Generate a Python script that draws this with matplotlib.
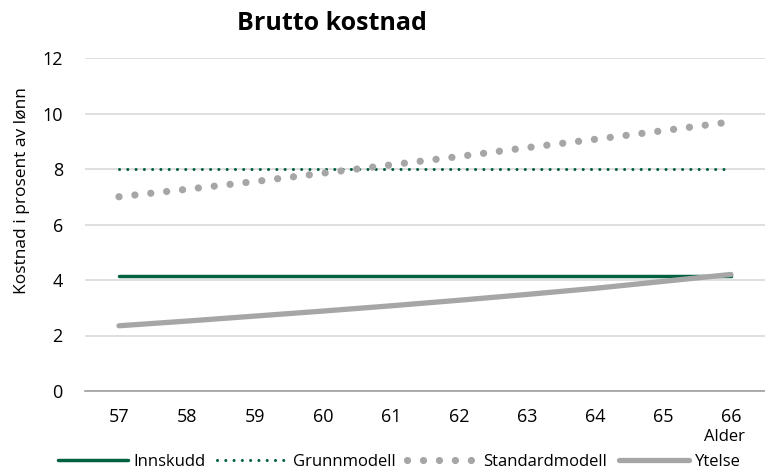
import numpy as np
import matplotlib.pyplot as plt

plt.rcParams['font.family'] = ['Open Sans', 'DejaVu Sans']

alder = [57, 58, 59, 60, 61, 62, 63, 64, 65, 66]
innskudd = [4.15] * 10
grunnmodell = [8.0] * 10
standardmodell = [7.0, 7.27, 7.55, 7.85, 8.15, 8.45, 8.77, 9.07, 9.38, 9.7]
ytelse = [2.35, 2.52, 2.7, 2.88, 3.07, 3.27, 3.48, 3.7, 3.95, 4.2]

green = '#00613E'
grey = '#A6A6A6'

fig = plt.figure(figsize=(7.65, 4.70), dpi=100)
ax = fig.add_axes([85 / 765, 1 - 391 / 470, 680 / 765, (391 - 58) / 470])

x = np.arange(len(alder))
ax.plot(x, innskudd, color=green, lw=2.5, solid_capstyle='round', label='Innskudd')
ax.plot(x, grunnmodell, color=green, lw=2.2, linestyle=(0, (0.01, 2.7)),
        dash_capstyle='round', label='Grunnmodell')
ax.plot(x, standardmodell, color=grey, lw=5.2, linestyle=(0, (0.01, 2.2)),
        dash_capstyle='round', label='Standardmodell')
ax.plot(x, ytelse, color=grey, lw=3.8, solid_capstyle='round', label='Ytelse')

ax.set_xlim(-0.5, len(alder) - 0.5)
ax.set_ylim(0, 12)
ax.set_yticks(range(0, 13, 2))
ax.set_xticks(x)
ax.set_xticklabels([str(a) for a in alder])
ax.tick_params(length=0, labelsize=13, colors='black')
ax.tick_params(axis='x', pad=12)
ax.tick_params(axis='y', pad=16)
ax.grid(axis='y', color='#D9D9D9', lw=1.2)
ax.set_axisbelow(True)
for s in ['top', 'right', 'left']:
    ax.spines[s].set_visible(False)
ax.spines['bottom'].set_color('#A0A0A0')
ax.spines['bottom'].set_linewidth(1.2)

# y label sits a bit above the axes centre in the original
fig.text(22 / 765, 1 - 191 / 470, 'Kostnad i prosent av lønn', rotation=90,
         ha='center', va='center', fontsize=12.5)

fig.text(332 / 765, 1 - 23 / 470, 'Brutto kostnad', ha='center', va='center',
         fontsize=18, fontweight='bold')
fig.text(724 / 765, 1 - 437 / 470, 'Alder', ha='center', va='center', fontsize=12)

fig.legend(loc='center', bbox_to_anchor=(399 / 765, 1 - 462 / 470), ncol=4,
           frameon=False, fontsize=12, handlelength=4.2, handletextpad=0.35,
           columnspacing=0.7, borderpad=0, borderaxespad=0)

plt.savefig('out.png', dpi=100)
plt.close()
